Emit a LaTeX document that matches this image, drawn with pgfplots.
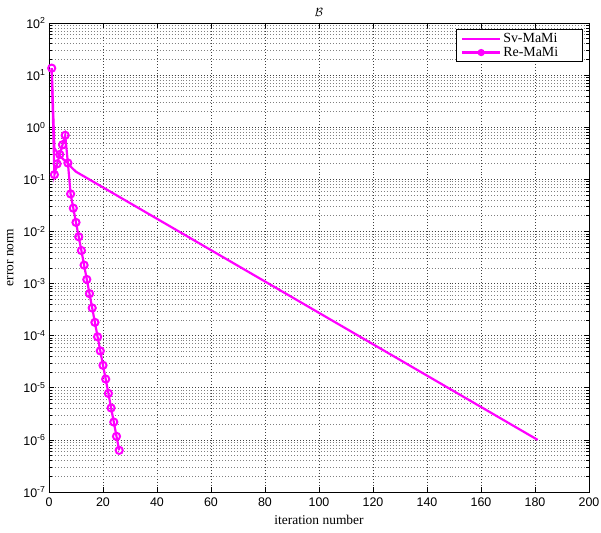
\documentclass[border=0pt]{standalone}
\usepackage{fontspec}
\setmainfont{Liberation Serif}
\setsansfont{Liberation Sans}
\usepackage{pgfplots}
\pgfplotsset{compat=1.18}
\usetikzlibrary{calc}

\definecolor{mag}{RGB}{255,0,255}

\begin{document}
\begin{tikzpicture}
\begin{semilogyaxis}[
  scale only axis,
  width=540bp, height=469bp,
  xmin=0, xmax=200, ymin=1e-7, ymax=1e2,
  xtick={0,20,...,200},
  ytick={1e-7,1e-6,1e-5,1e-4,1e-3,1e-2,1e-1,1,1e1,1e2},
  tick align=inside,
  major tick length=5bp, minor tick length=3bp,
  xmajorgrids, ymajorgrids, yminorgrids,
  major grid style={dash pattern=on 0.7pt off 2.3pt, black!75, line width=0.6pt},
  minor grid style={dash pattern=on 0.7pt off 2.3pt, black!50, line width=0.6pt},
  axis line style={black, line width=1pt},
  tick style={black, line width=0.6pt},
  /pgf/number format/assume math mode=true,
  tick label style={font=\sffamily\fontsize{12.5}{15}\selectfont},
  xticklabel style={yshift=-2bp},
  log number format basis/.code 2 args={10\textsuperscript{\pgfmathprintnumber[assume math mode=true]{#2}}},
  xlabel={iteration number},
  ylabel={error norm},
  xlabel style={font=\fontsize{13.5}{16}\selectfont, yshift=-2bp},
  ylabel style={font=\fontsize{13.5}{16}\selectfont, yshift=3bp},
  title={$\mathcal{B}$},
  title style={font=\fontsize{13}{15}\selectfont, yshift=-3bp},
  legend cell align=left,
  legend style={at={(1,1)}, anchor=north east, xshift=-6bp, yshift=-6bp,
    font=\fontsize{14}{17}\selectfont, draw=black, line width=1pt,
    inner xsep=5bp, inner ysep=2bp, row sep=-1bp},
  legend image code/.code={
    \draw[mark repeat=2, mark phase=2, #1, line width=2.2pt, mark size=2.6pt]
      plot coordinates {(0cm,0cm) (0.67cm,0cm) (1.34cm,0cm)};
  },
]
% Sv-MaMi
\addplot[mag, line width=2.2pt, mark=none]
  coordinates {(1,13.6)(2,0.40)(3,0.33)(4,0.28)(5,0.25)(6,0.225)(7,0.205)(8,0.176)(10,0.14)(181,1e-6)};
\addlegendentry{Sv-MaMi\hspace*{18bp}}
% Re-MaMi
\addplot[mag, line width=2.2pt, mark=o, mark size=3.6pt, mark options={line width=2pt}]
  coordinates {
  (1,13.6)(2,0.123)(3,0.198)(4,0.30)(5,0.46)(6,0.70)(7,0.206)(8,0.0525)
  (9,0.028)(10,0.0149)(11,0.0079)(12,0.0043)(13,0.00226)(14,0.0012)
  (15,6.4e-4)(16,3.4e-4)(17,1.8e-4)(18,9.5e-5)(19,5.1e-5)(20,2.7e-5)
  (21,1.47e-5)(22,7.8e-6)(23,4.1e-6)(24,2.2e-6)(25,1.17e-6)(26,6.3e-7)};
\addlegendentry{Re-MaMi}
\end{semilogyaxis}
\pgfresetboundingbox
\path ($(current axis.south west)+(-49bp,-41bp)$) rectangle ($(current axis.north east)+(12bp,23bp)$);
\end{tikzpicture}
\end{document}
